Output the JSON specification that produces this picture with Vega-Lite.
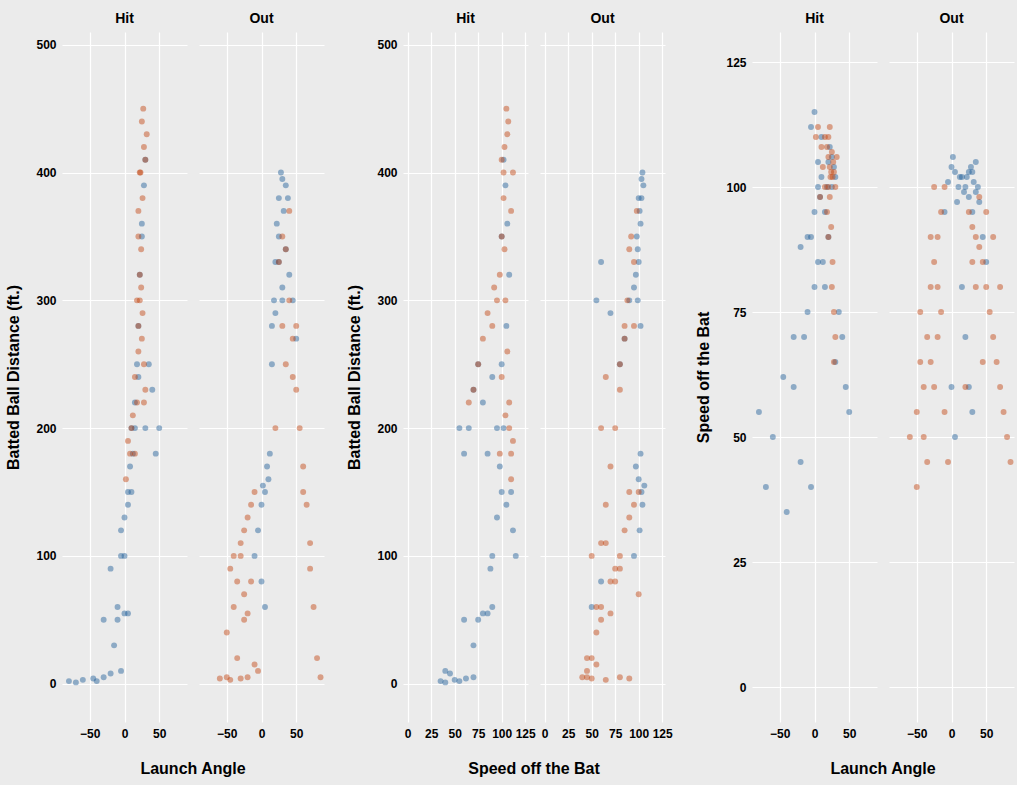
{
  "$schema": "https://vega.github.io/schema/vega-lite/v6.json",
  "background": "#ebebeb",
  "padding": {"left": 5, "top": 12, "right": 3, "bottom": 8},
  "data": {"values": [
    {"r":"Hit","g":"B","a":-80,"s":55,"d":2},{"r":"Hit","g":"B","a":-60,"s":50,"d":3},{"r":"Hit","g":"B","a":-45,"s":62,"d":4},{"r":"Hit","g":"B","a":-30,"s":70,"d":5},
    {"r":"Hit","g":"B","a":-20,"s":45,"d":8},{"r":"Hit","g":"B","a":-5,"s":40,"d":10},{"r":"Hit","g":"B","a":-70,"s":40,"d":1},{"r":"Hit","g":"B","a":-40,"s":35,"d":2},
    {"r":"Hit","g":"B","a":-10,"s":75,"d":50},{"r":"Hit","g":"B","a":0,"s":80,"d":55},{"r":"Hit","g":"B","a":5,"s":85,"d":55},{"r":"Hit","g":"B","a":-5,"s":90,"d":100},
    {"r":"Hit","g":"B","a":0,"s":95,"d":130},{"r":"Hit","g":"B","a":5,"s":100,"d":150},{"r":"Hit","g":"B","a":8,"s":98,"d":170},{"r":"Hit","g":"B","a":10,"s":102,"d":200},
    {"r":"Hit","g":"B","a":12,"s":85,"d":180},{"r":"Hit","g":"B","a":15,"s":80,"d":220},{"r":"Hit","g":"B","a":18,"s":100,"d":250},{"r":"Hit","g":"B","a":20,"s":105,"d":280},
    {"r":"Hit","g":"B","a":22,"s":108,"d":320},{"r":"Hit","g":"B","a":25,"s":106,"d":360},{"r":"Hit","g":"B","a":28,"s":104,"d":390},{"r":"Hit","g":"B","a":30,"s":102,"d":410},
    {"r":"Hit","g":"B","a":25,"s":100,"d":350},{"r":"Hit","g":"B","a":35,"s":75,"d":250},{"r":"Hit","g":"B","a":40,"s":70,"d":230},{"r":"Hit","g":"B","a":30,"s":65,"d":200},
    {"r":"Hit","g":"B","a":10,"s":110,"d":150},{"r":"Hit","g":"B","a":-5,"s":112,"d":120},{"r":"Hit","g":"B","a":0,"s":115,"d":100},{"r":"Hit","g":"B","a":5,"s":105,"d":140},
    {"r":"Hit","g":"B","a":-10,"s":90,"d":60},{"r":"Hit","g":"B","a":-15,"s":70,"d":30},{"r":"Hit","g":"B","a":45,"s":60,"d":180},{"r":"Hit","g":"B","a":50,"s":55,"d":200},
    {"r":"Hit","g":"B","a":-30,"s":60,"d":50},{"r":"Hit","g":"B","a":-20,"s":88,"d":90},{"r":"Hit","g":"B","a":15,"s":95,"d":200},{"r":"Hit","g":"B","a":20,"s":90,"d":240},
    {"r":"Out","g":"B","a":20,"s":100,"d":330},{"r":"Out","g":"B","a":22,"s":102,"d":360},{"r":"Out","g":"B","a":25,"s":103,"d":380},{"r":"Out","g":"B","a":28,"s":104,"d":400},
    {"r":"Out","g":"B","a":30,"s":103,"d":395},{"r":"Out","g":"B","a":32,"s":101,"d":370},{"r":"Out","g":"B","a":35,"s":99,"d":340},{"r":"Out","g":"B","a":40,"s":97,"d":320},
    {"r":"Out","g":"B","a":18,"s":99,"d":300},{"r":"Out","g":"B","a":15,"s":102,"d":280},{"r":"Out","g":"B","a":25,"s":98,"d":350},{"r":"Out","g":"B","a":30,"s":95,"d":310},
    {"r":"Out","g":"B","a":10,"s":100,"d":160},{"r":"Out","g":"B","a":5,"s":103,"d":150},{"r":"Out","g":"B","a":0,"s":104,"d":140},{"r":"Out","g":"B","a":-5,"s":101,"d":120},
    {"r":"Out","g":"B","a":8,"s":97,"d":170},{"r":"Out","g":"B","a":12,"s":102,"d":180},{"r":"Out","g":"B","a":15,"s":80,"d":250},{"r":"Out","g":"B","a":20,"s":70,"d":290},
    {"r":"Out","g":"B","a":25,"s":60,"d":330},{"r":"Out","g":"B","a":30,"s":55,"d":300},{"r":"Out","g":"B","a":-10,"s":95,"d":100},{"r":"Out","g":"B","a":2,"s":106,"d":155},
    {"r":"Out","g":"B","a":45,"s":90,"d":300},{"r":"Out","g":"B","a":50,"s":85,"d":270},{"r":"Out","g":"B","a":0,"s":60,"d":80},{"r":"Out","g":"B","a":5,"s":50,"d":60},
    {"r":"Out","g":"B","a":35,"s":105,"d":390},{"r":"Out","g":"B","a":38,"s":100,"d":380},
    {"r":"Hit","g":"O","a":15,"s":110,"d":180},{"r":"Hit","g":"O","a":18,"s":108,"d":220},{"r":"Hit","g":"O","a":20,"s":106,"d":260},{"r":"Hit","g":"O","a":22,"s":104,"d":300},
    {"r":"Hit","g":"O","a":24,"s":103,"d":340},{"r":"Hit","g":"O","a":26,"s":102,"d":380},{"r":"Hit","g":"O","a":28,"s":103,"d":420},{"r":"Hit","g":"O","a":27,"s":105,"d":450},
    {"r":"Hit","g":"O","a":25,"s":107,"d":440},{"r":"Hit","g":"O","a":23,"s":102,"d":400},{"r":"Hit","g":"O","a":20,"s":100,"d":350},{"r":"Hit","g":"O","a":30,"s":70,"d":230},
    {"r":"Hit","g":"O","a":28,"s":75,"d":250},{"r":"Hit","g":"O","a":25,"s":80,"d":270},{"r":"Hit","g":"O","a":20,"s":90,"d":280},{"r":"Hit","g":"O","a":15,"s":100,"d":240},
    {"r":"Hit","g":"O","a":10,"s":108,"d":200},{"r":"Hit","g":"O","a":5,"s":112,"d":190},{"r":"Hit","g":"O","a":2,"s":110,"d":160},{"r":"Hit","g":"O","a":18,"s":95,"d":300},
    {"r":"Hit","g":"O","a":22,"s":98,"d":320},{"r":"Hit","g":"O","a":24,"s":92,"d":310},{"r":"Hit","g":"O","a":30,"s":100,"d":410},{"r":"Hit","g":"O","a":32,"s":106,"d":430},
    {"r":"Hit","g":"O","a":12,"s":104,"d":210},{"r":"Hit","g":"O","a":8,"s":98,"d":180},{"r":"Hit","g":"O","a":26,"s":85,"d":290},{"r":"Hit","g":"O","a":28,"s":65,"d":220},
    {"r":"Hit","g":"O","a":20,"s":110,"d":370},{"r":"Hit","g":"O","a":22,"s":112,"d":400},
    {"r":"Out","g":"O","a":-40,"s":60,"d":60},{"r":"Out","g":"O","a":-35,"s":70,"d":80},{"r":"Out","g":"O","a":-30,"s":80,"d":100},{"r":"Out","g":"O","a":-25,"s":85,"d":120},
    {"r":"Out","g":"O","a":-20,"s":90,"d":130},{"r":"Out","g":"O","a":-15,"s":95,"d":140},{"r":"Out","g":"O","a":-10,"s":100,"d":150},{"r":"Out","g":"O","a":-30,"s":65,"d":110},
    {"r":"Out","g":"O","a":-40,"s":50,"d":100},{"r":"Out","g":"O","a":-45,"s":75,"d":90},{"r":"Out","g":"O","a":-50,"s":55,"d":40},{"r":"Out","g":"O","a":-20,"s":70,"d":55},
    {"r":"Out","g":"O","a":-25,"s":60,"d":50},{"r":"Out","g":"O","a":-35,"s":45,"d":20},{"r":"Out","g":"O","a":-50,"s":40,"d":5},{"r":"Out","g":"O","a":-45,"s":65,"d":3},
    {"r":"Out","g":"O","a":-60,"s":50,"d":4},{"r":"Out","g":"O","a":-20,"s":80,"d":5},{"r":"Out","g":"O","a":-30,"s":90,"d":4},{"r":"Out","g":"O","a":-10,"s":55,"d":15},
    {"r":"Out","g":"O","a":-5,"s":45,"d":10},{"r":"Out","g":"O","a":-15,"s":75,"d":80},{"r":"Out","g":"O","a":-25,"s":100,"d":70},
    {"r":"Out","g":"O","a":25,"s":95,"d":330},{"r":"Out","g":"O","a":30,"s":92,"d":350},{"r":"Out","g":"O","a":35,"s":90,"d":340},{"r":"Out","g":"O","a":40,"s":88,"d":300},
    {"r":"Out","g":"O","a":45,"s":85,"d":270},{"r":"Out","g":"O","a":50,"s":80,"d":230},{"r":"Out","g":"O","a":55,"s":75,"d":200},{"r":"Out","g":"O","a":60,"s":70,"d":170},
    {"r":"Out","g":"O","a":65,"s":65,"d":140},{"r":"Out","g":"O","a":70,"s":60,"d":110},{"r":"Out","g":"O","a":75,"s":55,"d":60},{"r":"Out","g":"O","a":80,"s":50,"d":20},
    {"r":"Out","g":"O","a":85,"s":45,"d":5},{"r":"Out","g":"O","a":30,"s":85,"d":280},{"r":"Out","g":"O","a":35,"s":80,"d":250},{"r":"Out","g":"O","a":40,"s":98,"d":370},
    {"r":"Out","g":"O","a":20,"s":60,"d":200},{"r":"Out","g":"O","a":45,"s":65,"d":240},{"r":"Out","g":"O","a":50,"s":95,"d":280},{"r":"Out","g":"O","a":60,"s":90,"d":150},
    {"r":"Out","g":"O","a":70,"s":80,"d":90}
  ]},
  "spacing": 22,
  "hconcat": [
    {
      "facet": {"column": {"field": "r", "type": "nominal", "header": {"title": "Launch Angle"}}},
      "spacing": 12,
      "spec": {
        "width": 125, "height": 690,
        "mark": {"type": "circle", "size": 35, "opacity": 0.45},
        "encoding": {
          "x": {"field": "a", "type": "quantitative", "title": null, "scale": {"domain": [-90, 90], "nice": false}, "axis": {"values": [-50, 0, 50]}},
          "y": {"field": "d", "type": "quantitative", "title": "Batted Ball Distance (ft.)", "scale": {"domain": [-30, 510], "nice": false}, "axis": {"values": [0, 100, 200, 300, 400, 500]}},
          "color": {"field": "g", "type": "nominal", "legend": null, "scale": {"domain": ["B", "O"], "range": ["#1a5a96", "#c0400a"]}}
        }
      }
    },
    {
      "facet": {"column": {"field": "r", "type": "nominal", "header": {"title": "Speed off the Bat"}}},
      "spacing": 12,
      "spec": {
        "width": 125, "height": 690,
        "mark": {"type": "circle", "size": 35, "opacity": 0.45},
        "encoding": {
          "x": {"field": "s", "type": "quantitative", "title": null, "scale": {"domain": [-5, 128], "nice": false}, "axis": {"values": [0, 25, 50, 75, 100, 125]}},
          "y": {"field": "d", "type": "quantitative", "title": "Batted Ball Distance (ft.)", "scale": {"domain": [-30, 510], "nice": false}, "axis": {"values": [0, 100, 200, 300, 400, 500]}},
          "color": {"field": "g", "type": "nominal", "legend": null, "scale": {"domain": ["B", "O"], "range": ["#1a5a96", "#c0400a"]}}
        }
      }
    },
    {
      "facet": {"column": {"field": "r", "type": "nominal", "header": {"title": "Launch Angle"}}},
      "spacing": 12,
      "spec": {
        "width": 125, "height": 690,
        "mark": {"type": "circle", "size": 35, "opacity": 0.45},
        "encoding": {
          "x": {"field": "a", "type": "quantitative", "title": null, "scale": {"domain": [-90, 90], "nice": false}, "axis": {"values": [-50, 0, 50]}},
          "y": {"field": "s", "type": "quantitative", "title": "Speed off the Bat", "scale": {"domain": [-7, 131], "nice": false}, "axis": {"values": [0, 25, 50, 75, 100, 125]}},
          "color": {"field": "g", "type": "nominal", "legend": null, "scale": {"domain": ["B", "O"], "range": ["#1a5a96", "#c0400a"]}}
        }
      }
    }
  ],
  "config": {
    "font": "Liberation Sans",
    "view": {"stroke": null, "fill": "#ebebeb"},
    "axis": {"domain": false, "ticks": false, "grid": true, "gridColor": "#ffffff", "gridWidth": 1.2,
      "labelFontWeight": "bold", "labelColor": "#000000", "labelFontSize": 12, "labelPadding": 6,
      "titleFontWeight": "bold", "titleFontSize": 16, "titleColor": "#000000", "titlePadding": 14},
    "header": {"titleOrient": "bottom", "labelOrient": "top", "titleFontWeight": "bold", "titleFontSize": 16, "titleColor": "#000000", "titlePadding": 12,
      "labelFontWeight": "bold", "labelFontSize": 14, "labelColor": "#000000", "labelPadding": 6}
  }
}
